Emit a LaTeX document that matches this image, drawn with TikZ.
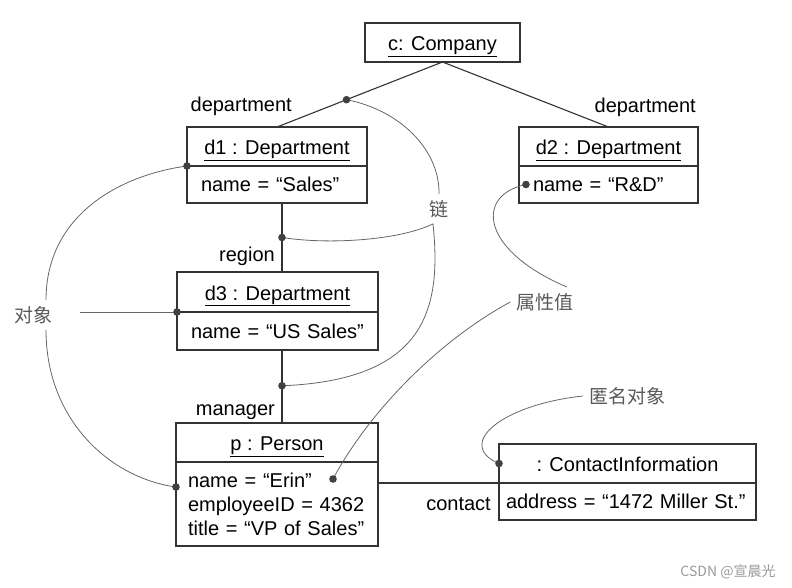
\documentclass[tikz,border=0pt]{standalone}
\usepackage{fontspec}
\setmainfont{Liberation Sans}
\newfontfamily\cjk{Noto Sans CJK SC}
\usetikzlibrary{positioning}

\begin{document}
\begin{tikzpicture}[x=1pt,y=-1pt,
	head/.style={draw=black!80, line width=1.1pt, outer sep=0pt, inner sep=0pt, minimum width=#1, minimum height=39pt, text height=18pt, text depth=2pt, font=\fontsize{20}{24}\selectfont},
	body/.style={draw=black!80, line width=1.1pt, outer sep=0pt, inner xsep=14pt, inner ysep=0pt, text width=#1, minimum height=37pt, align=left, font=\fontsize{20}{24}\selectfont},
	role/.style={anchor=east, inner sep=0pt, text height=15pt, text depth=4pt, font=\fontsize{20}{24}\selectfont},
	link/.style={draw=black!80, line width=1.1pt},
	note/.style={draw=black!60, line width=0.8pt},
	tag/.style={text=black!65, inner sep=6pt, font=\cjk\fontsize{19}{22}\selectfont}]
	
	\useasboundingbox (0,0) rectangle (792,588);
	
	% the objects
	\node[head=155pt] (comp) at (442.5,42.5) {\underline{c: Company}};
	
	\node[head=180pt] (d1) at (277,146.5) {\underline{d1 : Department}};
	\node[body=152pt, below=0pt of d1] (d1b) {name = “Sales”};
	
	\node[head=179pt] (d2) at (608.5,146.5) {\underline{d2 : Department}};
	\node[body=151pt, below=0pt of d2] (d2b) {name = “R\&D”};
	
	\node[head=201pt, minimum height=40pt] (d3) at (277.5,292) {\underline{d3 : Department}};
	\node[body=173pt, below=0pt of d3, minimum height=38pt] (d3b) {name = “US Sales”};
	
	\node[head=202pt] (p) at (277,442.5) {\underline{p : Person}};
	\node[body=178pt, inner xsep=12pt, below=0pt of p, minimum height=84pt] (pb) {name = “Erin”\\ employeeID = 4362\\ title = “VP of Sales”};
	
	\node[head=257pt] (ci) at (627.5,463.5) {: ContactInformation};
	\node[body=243pt, inner xsep=7pt, below=0pt of ci] (cib) {address = “1472 Miller St.”};
	
	% role names
	\node[role] (rdep1) at (292,106) {department};
	\node[role] (rdep2) at (696,107) {department};
	\node[role] (rreg) at (275,256) {region};
	\node[role] (rman) at (275,410) {manager};
	\node[role] (rcon) at (491,505) {contact};
	
	% the links
	\draw[link] (comp.south) -- (d1.north) coordinate[pos=0.58] (cdot);
	\draw[link] (comp.south) -- (d2.north);
	\draw[link] ([xshift=5pt]d1b.south) -- ([xshift=4.5pt]d3.north) coordinate[pos=0.5] (rdot);
	\draw[link] ([xshift=4.5pt]d3b.south) -- ([xshift=5pt]p.north) coordinate[pos=0.49] (mdot);
	\draw[link] (pb.east |- ci.south west) -- (ci.south west);
	
	% the notes
	\node[tag] (lobj) at (33,315) {对象};
	\node[tag] (llink) at (439,209) {链};
	\node[tag] (lval) at (545,302) {属性值};
	\node[tag] (lanon) at (627,396) {匿名对象};
	
	% the dots
	\coordinate (d1dot) at (d1.south west);
	\coordinate (d3dot) at (d3.south west);
	\coordinate (pdot) at ([yshift=-25pt]pb.north west);
	\coordinate (erdot) at ([xshift=157pt,yshift=-17pt]pb.north west);
	\coordinate (d2dot) at ([xshift=7pt]d2b.west);
	\coordinate (cidot) at (ci.west);
	\coordinate (lk) at ([xshift=-6pt]llink.south);
	
	\draw[note] ([xshift=13pt]lobj.north) .. controls (46,215) and (120,175) .. (d1dot);
	\draw[note] ([xshift=22pt]lobj.east |- d3dot) -- (d3dot);
	\draw[note] ([xshift=13pt]lobj.south) .. controls (46,420) and (110,478) .. (pdot);
	\draw[note] (cdot) .. controls (400,110) and (440,150) .. (llink.north);
	\draw[note] (rdot) .. controls (330,245) and (400,240) .. (lk) .. controls (442,310) and (425,380) .. (mdot);
	\draw[note] (d2dot) .. controls (475,195) and (480,250) .. ([xshift=22pt]lval.north);
	\draw[note] (lval.west) .. controls (440,340) and (370,410) .. (erdot);
	\draw[note] (lanon.west) .. controls (500,405) and (455,445) .. (cidot);
	
	\foreach \d in {cdot,rdot,mdot,d1dot,d3dot,pdot,erdot,d2dot,cidot}
		\fill[black!75] (\d) circle (3.8pt);
	
	% watermark
	\node[text=black!40, font=\cjk\fontsize{14}{16}\selectfont] (wm) at (728,572) {CSDN @宣晨光};
\end{tikzpicture}
\end{document}
